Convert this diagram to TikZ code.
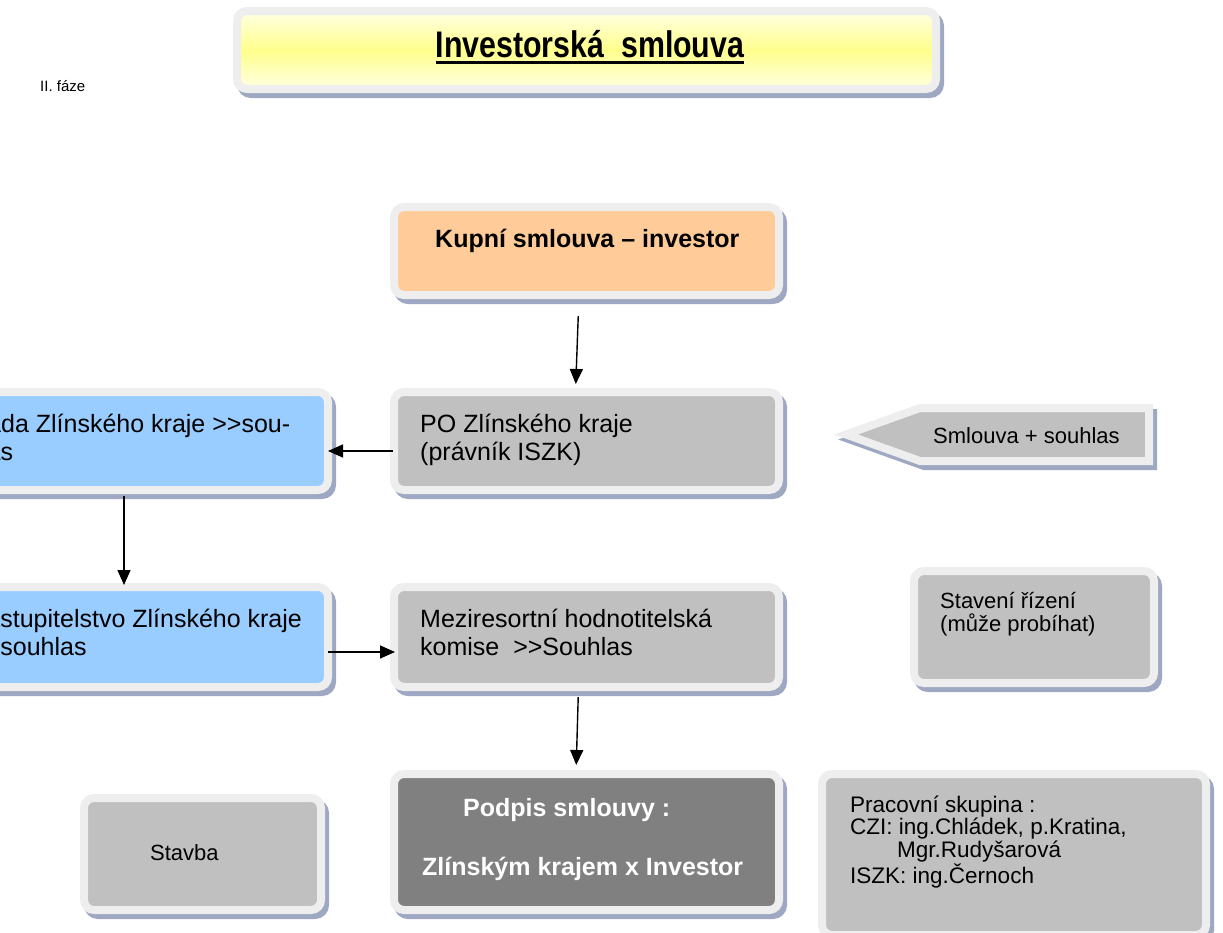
\documentclass[tikz,border=0pt]{standalone}
\usepackage{fontspec}
\setmainfont{Liberation Sans}
\usepackage{graphicx}
\usetikzlibrary{arrows.meta,shadows}

\definecolor{framegray}{RGB}{238,238,238}
\definecolor{shadowblue}{RGB}{158,168,194}
\definecolor{boxgray}{RGB}{192,192,192}
\definecolor{signgray}{RGB}{128,128,128}
\definecolor{boxblue}{RGB}{153,204,255}
\definecolor{boxorange}{RGB}{255,204,153}
\definecolor{titleyellow}{RGB}{255,255,140}
\definecolor{titlepale}{RGB}{255,255,228}

\newcommand\titleul[1]{\setbox0\hbox{#1}\rlap{\rule[-7pt]{\wd0}{3.2pt}}\box0}
\newcommand\gtgt{>\kern0pt>}

\begin{document}
\begin{tikzpicture}[x=1pt,y=-1pt,
  frame/.style={draw=framegray, line width=8pt,
    general shadow={shadow xshift=4pt, shadow yshift=-5pt, draw=shadowblue, fill=shadowblue, line width=8pt}},
  box/.style={frame, rounded corners=10pt, inner sep=0pt, outer sep=0pt},
  txt/.style={anchor=base west, inner sep=0pt, align=left, font=\fontsize{25}{28}\selectfont},
  smalltxt/.style={txt, font=\fontsize{22}{23}\selectfont},
  arr/.style={-{Triangle[length=15pt,width=13pt]}, line width=1.4pt}]
\useasboundingbox (0,0) rectangle (1223,932);
\clip (0,0) rectangle (1223,932);

% boxes
\node[box, top color=titlepale, bottom color=titlepale, middle color=titleyellow,
  minimum width=699pt, minimum height=78pt] (title) at (586.5,50) {};
\node[box, fill=boxorange, minimum width=385pt, minimum height=88pt] (kupni) at (586.5,251) {};
\node[box, fill=boxgray, minimum width=385pt, minimum height=98pt] (po) at (586.5,441) {};
\node[box, fill=boxblue, minimum width=388pt, minimum height=98pt] (rada) at (134,441) {};
\node[box, fill=boxblue, minimum width=388pt, minimum height=100pt] (zast) at (134,637) {};
\node[box, fill=boxgray, minimum width=385pt, minimum height=100pt] (mezi) at (586.5,637) {};
\node[box, fill=boxgray, minimum width=240pt, minimum height=112pt] (rizeni) at (1034,627) {};
\node[box, fill=signgray, minimum width=385pt, minimum height=136pt] (podpis) at (586.5,842) {};
\node[box, fill=boxgray, minimum width=384pt, minimum height=161pt] (skupina) at (1014,854.5) {};
\node[box, fill=boxgray, minimum width=237pt, minimum height=112pt] (stavba) at (202.5,854) {};
\draw[frame, fill=boxgray] (846,434.5) -- (920,408) -- (1149,408) -- (1149,461) -- (920,461) -- cycle;

% texts (base anchor = last line)
\node[txt, font=\fontsize{15}{18}\selectfont] (faze) at (40,91) {II. fáze};
\node[anchor=base, inner sep=0pt, font=\bfseries\fontsize{37}{40}\selectfont] (titletxt) at (590,57)
  {\scalebox{0.82}[1]{\titleul{Investorská\ \ smlouva}}};
\node[txt, font=\bfseries\fontsize{25}{28}\selectfont] (kupnitxt) at (435,247) {Kupní smlouva – investor};
\node[txt] (potxt) at (420,460) {PO Zlínského kraje\\(právník ISZK)};
\node[txt] (radatxt) at (-31,460) {Rada Zlínského kraje \gtgt sou-\\\hspace*{12pt}las};
\node[txt] (zasttxt) at (-29,655) {Zastupitelstvo Zlínského kraje\\\gtgt souhlas};
\node[txt] (mezitxt) at (420,655) {Meziresortní hodnotitelská\\komise\ \ \gtgt Souhlas};
\node[smalltxt] (rizenitxt) at (940,631) {Stavení řízení\\(může probíhat)};
\node[txt, text=white, font=\bfseries\fontsize{25}{59}\selectfont] (podpistxt) at (422,875)
  {\hspace*{41pt}Podpis smlouvy :\\Zlínským krajem x Investor};
\node[txt, font=\fontsize{22.5}{22.7}\selectfont] (skupinatxt) at (850,883)
  {Pracovní skupina :\\CZI: ing.Chládek, p.Kratina,\\\hspace*{47pt}Mgr.Rudyšarová\\ISZK: ing.Černoch};
\node[smalltxt] (stavbatxt) at (150,860) {Stavba};
\node[smalltxt] (smlouva) at (933,443) {Smlouva + souhlas};

% arrows
\draw[arr, shorten <=21pt, shorten >=8pt] ([xshift=-7.5pt]kupni.south) -- ([xshift=-11pt]po.north);
\draw[arr, shorten <=1pt, shorten >=0pt] ([yshift=-10pt]po.west) -- ([yshift=-10pt]rada.east);
\draw[arr, shorten <=6pt, shorten >=2pt] ([xshift=-10pt]rada.south) -- ([xshift=-10pt]zast.north);
\draw[arr, shorten >=-1pt] ([yshift=-15pt]zast.east) -- ([yshift=-15pt]mezi.west);
\draw[arr, shorten <=10pt, shorten >=9pt] ([xshift=-8pt]mezi.south) -- ([xshift=-10.5pt]podpis.north);
\end{tikzpicture}
\end{document}
